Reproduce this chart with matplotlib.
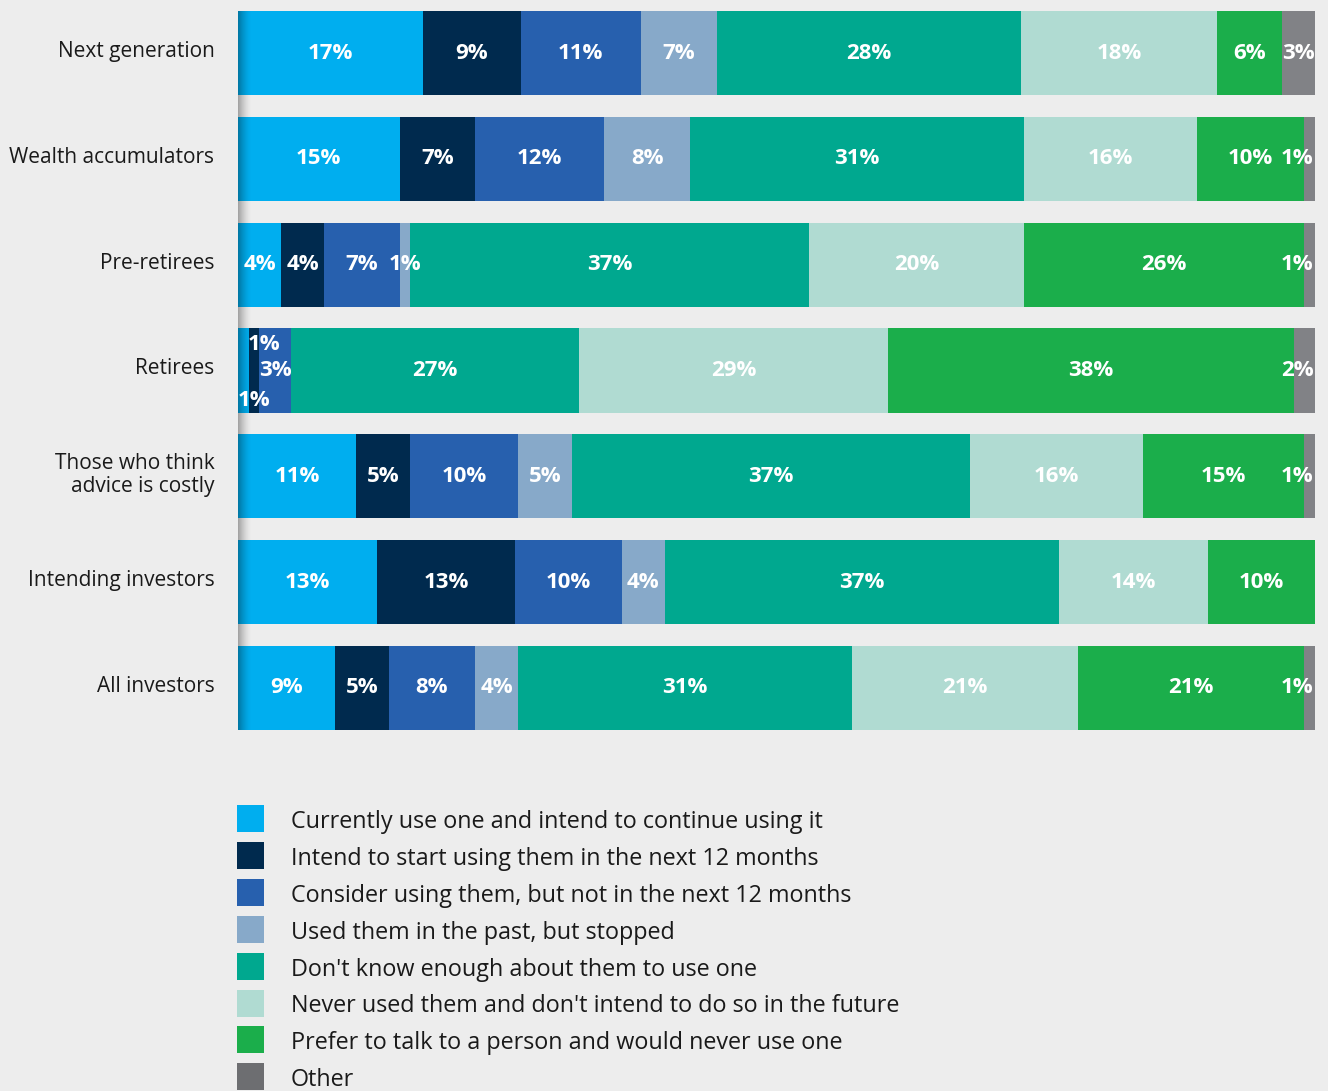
import numpy as np
import matplotlib
matplotlib.use("Agg")
import matplotlib.pyplot as plt
from matplotlib.patches import Rectangle
from matplotlib.transforms import ScaledTranslation

plt.rcParams['font.family'] = ['Open Sans', 'DejaVu Sans']

# Survey groups (top to bottom)
groups = [
    "Next generation",
    "Wealth accumulators",
    "Pre-retirees",
    "Retirees",
    "Those who think\nadvice is costly",
    "Intending investors",
    "All investors",
]

# Response categories
responses = [
    "Currently use one and intend to continue using it",
    "Intend to start using them in the next 12 months",
    "Consider using them, but not in the next 12 months",
    "Used them in the past, but stopped",
    "Don't know enough about them to use one",
    "Never used them and don't intend to do so in the future",
    "Prefer to talk to a person and would never use one",
    "Other",
]

# Percentages per response, listed by group
currently_use = [17, 15, 4, 1, 11, 13, 9]
intend_start = [9, 7, 4, 1, 5, 13, 5]
consider = [11, 12, 7, 3, 10, 10, 8]
used_past = [7, 8, 1, 0, 5, 4, 4]
dont_know = [28, 31, 37, 27, 37, 37, 31]
never_used = [18, 16, 20, 29, 16, 14, 21]
prefer_person = [6, 10, 26, 38, 15, 10, 21]
other = [3, 1, 1, 2, 1, 0, 1]

series = [currently_use, intend_start, consider, used_past,
          dont_know, never_used, prefer_person, other]

colors = ["#00AEEF", "#002A4E", "#2760AE", "#87A9C9",
          "#00A88F", "#B0DBD2", "#1BAE4B", "#818286"]
legend_colors = ["#00AEEF", "#002A4E", "#2760AE", "#87A9C9",
                 "#00A88F", "#B0DBD2", "#1BAE4B", "#6D6E71"]

BG = "#EDEDED"
W, H = 1328, 1091
fig = plt.figure(figsize=(W / 100, H / 100), dpi=100, facecolor=BG)

# bar area in pixels
left_px, right_px = 238, 1315
top_px, bot_px = 11, 730
ax = fig.add_axes([left_px / W, 1 - bot_px / H,
                   (right_px - left_px) / W, (bot_px - top_px) / H])
ax.set_facecolor(BG)

n = len(groups)
bar_h = 0.794

data = np.array(series, dtype=float)          # (responses, groups)
totals = data.sum(axis=0)
shares = data / totals * 100                   # each bar fills the full width
y = np.arange(n)

# small-label placement tweaks for the Retirees bar: (dx in %, dy in rows)
label_shift = {(3, 0): (0.0, 0.28), (3, 1): (0.9, -0.25)}

lefts = np.zeros(n)
for k in range(len(series)):
    ax.barh(y, shares[k], left=lefts, height=bar_h, color=colors[k],
            edgecolor="none", zorder=2)
    for i in range(n):
        v = data[k, i]
        if v <= 0:
            continue
        cx = lefts[i] + shares[k, i] / 2
        dx, dy = label_shift.get((i, k), (0.0, 0.0))
        ha = "center"
        xx = cx + dx
        if xx + 1.35 > 100:
            xx, ha = 99.85, "right"
        elif xx - 1.35 < 0:
            xx, ha = 0.0, "left"
        ax.text(xx, y[i] + dy, f"{int(v)}%", ha=ha, va="center",
                color="white", fontsize=16, fontweight="bold", zorder=4)
    lefts += shares[k]

# soft shadow along the left edge of the bars
grad = np.zeros((2, 64, 4))
grad[..., 3] = np.linspace(0.5, 0.0, 64) ** 1.6
ax.imshow(grad, extent=(0, 1.25, n - 1 + bar_h / 2, -bar_h / 2),
          aspect="auto", zorder=3, interpolation="bilinear")
ax.set_ylim(n - 1 + 0.397, -0.397)
ax.set_xlim(0, 100)

ax.set_yticks(y)
ax.set_yticklabels(groups, fontsize=15, color="#1A1A1A", ha="right",
                   linespacing=1.12, va="center")
ax.tick_params(axis="y", length=0, pad=17)
for t in ax.yaxis.get_major_ticks():
    t.label1.set_transform(t.label1.get_transform() +
                           ScaledTranslation(0, 1.5 / 100, fig.dpi_scale_trans))
ax.set_xticks([])
for s in ax.spines.values():
    s.set_visible(False)

# legend drawn in pixel space
lax = fig.add_axes([0, 0, 1, 1], zorder=-1)
lax.set_xlim(0, W)
lax.set_ylim(H, 0)
lax.axis("off")
leg_top, leg_step = 805, 36.9
for k, (lab, c) in enumerate(zip(responses, legend_colors)):
    yy = leg_top + k * leg_step
    lax.add_patch(Rectangle((237, yy), 27, 27, color=c, lw=0))
    lax.text(291, yy + 17, lab, ha="left", va="center", fontsize=16.8,
             color="#1A1A1A")

fig.savefig("out.png", dpi=100, facecolor=BG)
